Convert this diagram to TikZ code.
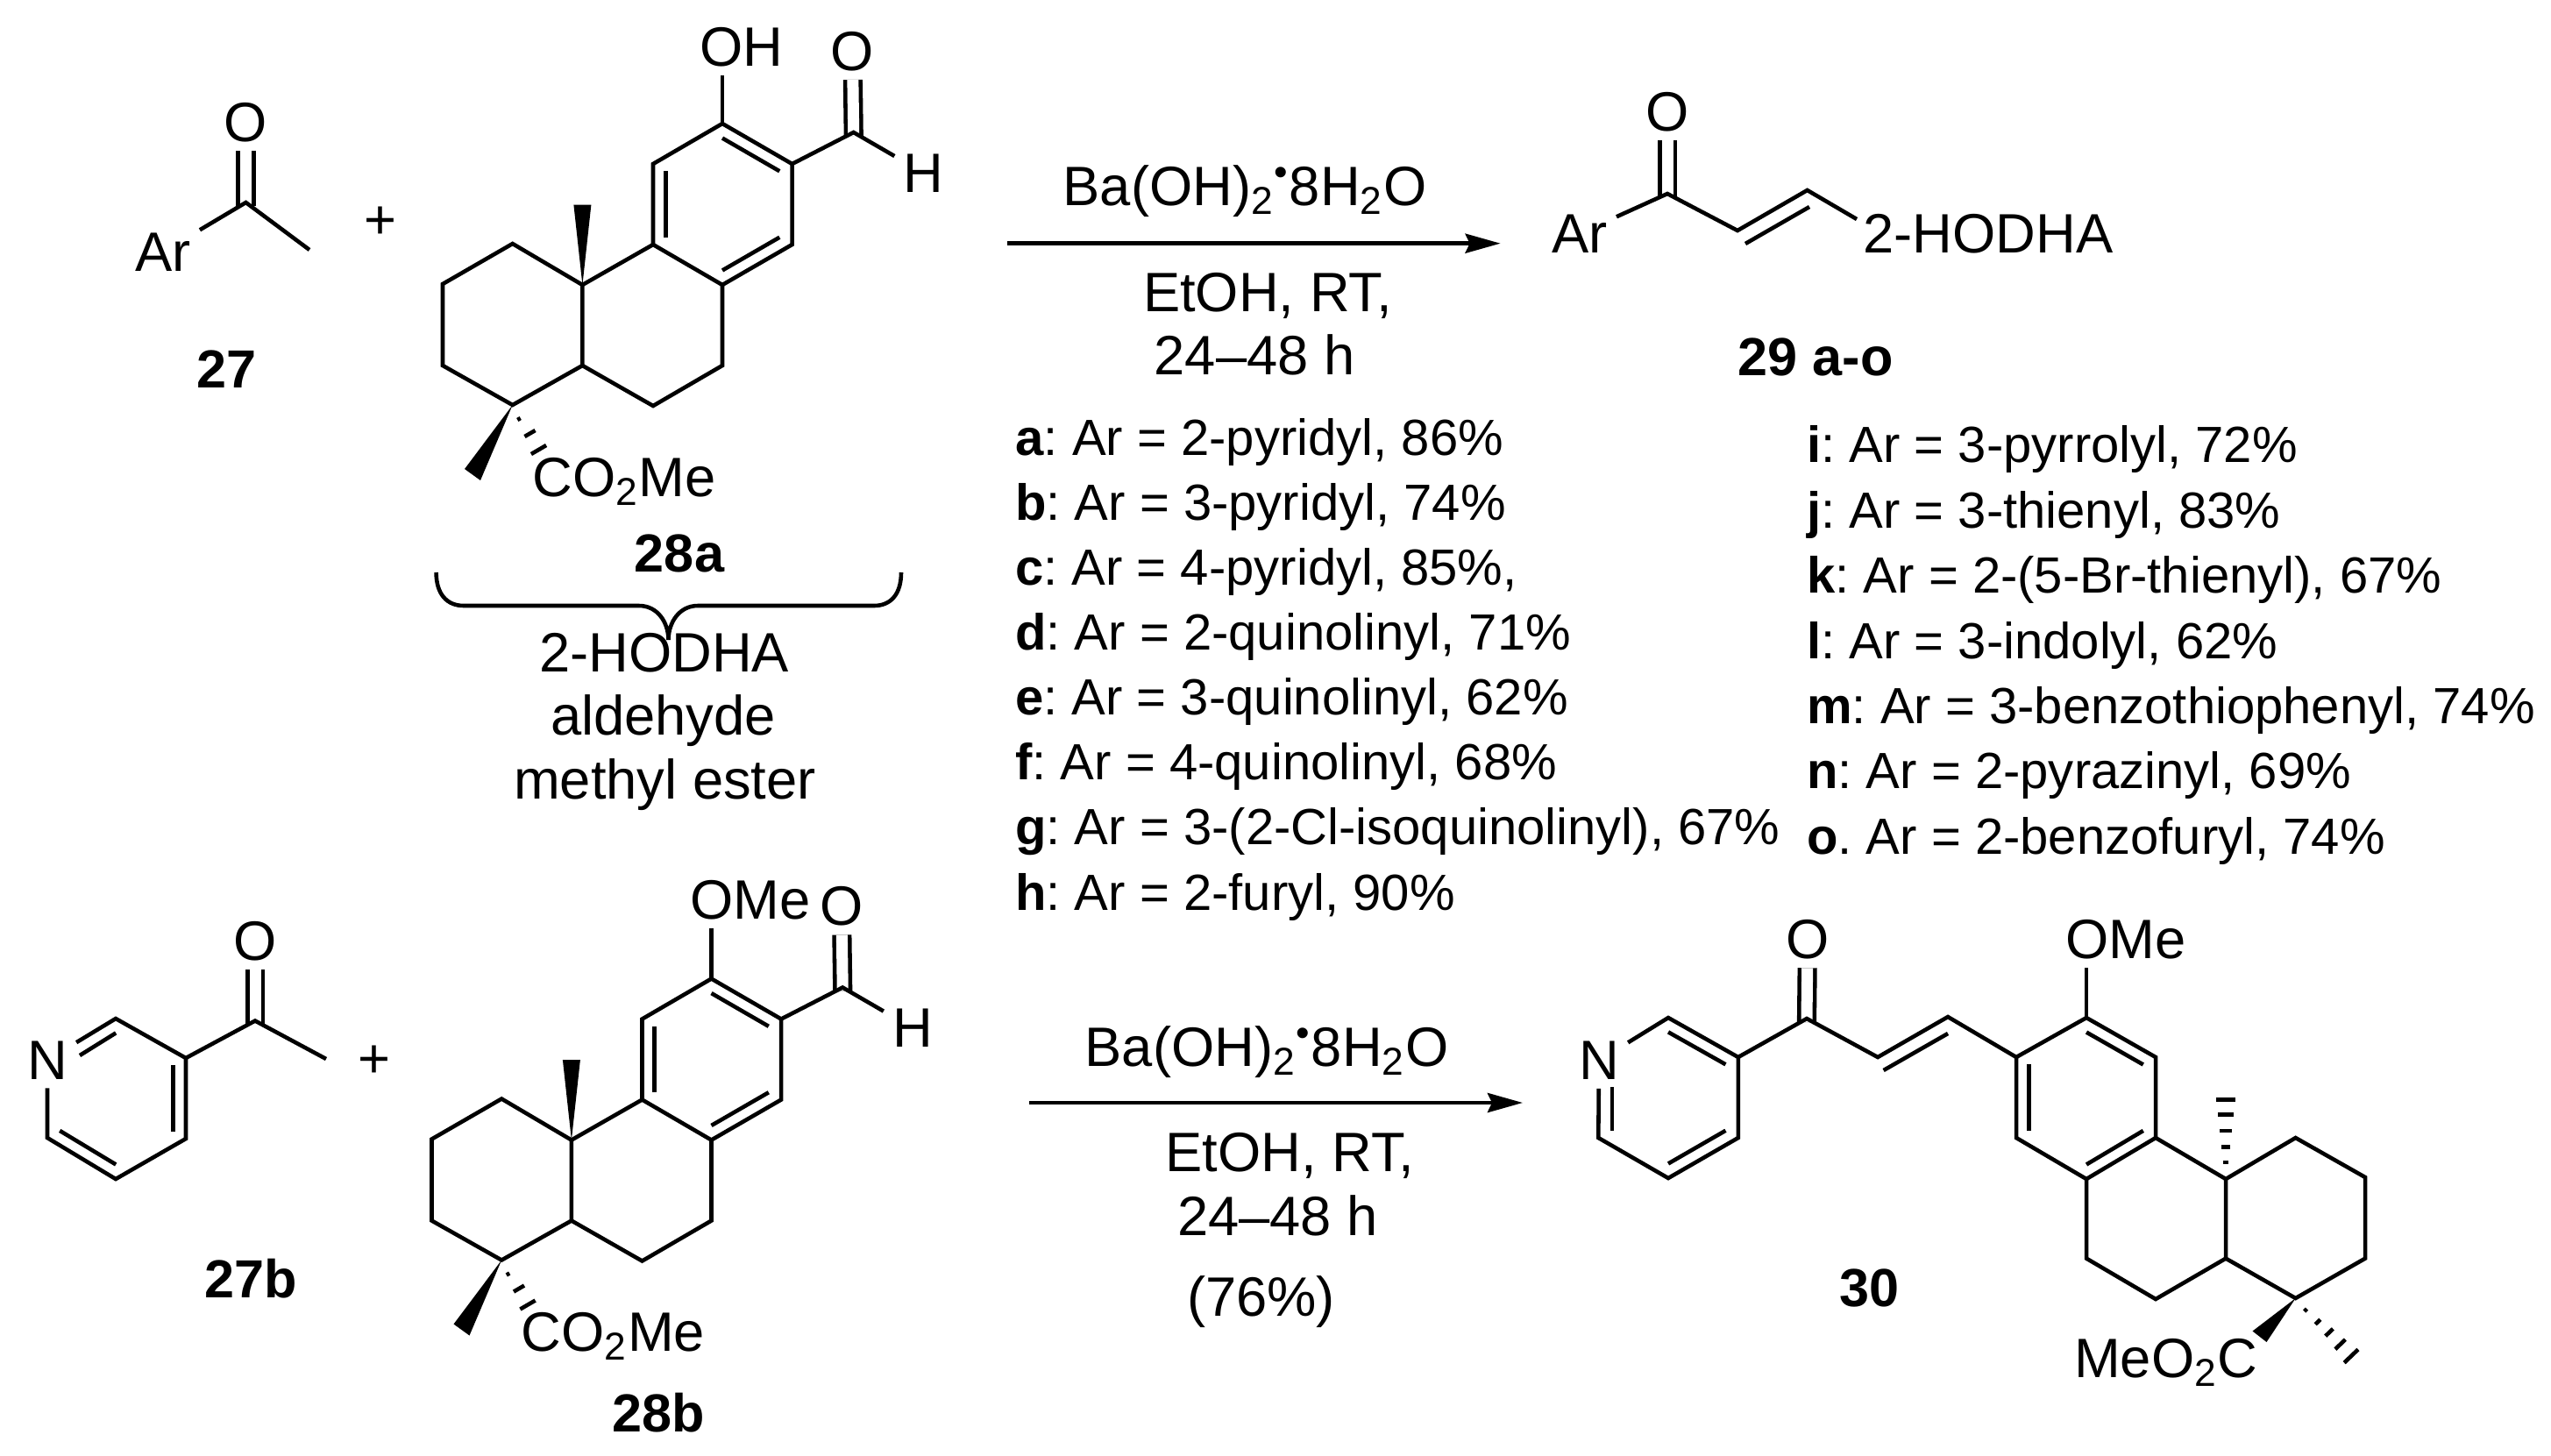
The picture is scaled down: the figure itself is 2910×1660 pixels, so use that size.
\documentclass[tikz,border=0pt]{standalone}
\usepackage{fontspec}
\setmainfont{Liberation Sans}
\usetikzlibrary{calc, arrows.meta}
\frenchspacing
\tikzset{
    atom/.style={anchor=base,inner sep=0.08cm,font=\fontsize{18}{21}\selectfont},
    cpd/.style={anchor=base,inner sep=0pt,font=\fontsize{17.4}{20}\selectfont\bfseries},
    entry/.style={anchor=base west,inner sep=0pt,font=\fontsize{16.5}{20}\selectfont},
    dbond/.style={double,double distance=0.13cm,shorten >=-0.04cm},
    rxn/.style={-{Stealth[length=0.4cm,width=0.22cm,inset=0.05cm]}},
}
\newcommand{\inbond}[3]{\draw ($(#1)!.18!(#3)$)--($(#2)!.18!(#3)$);}
\newcommand{\hodha}{%
    \coordinate (a1) at (824,141);
    \coordinate (a2) at (903.6,187);
    \coordinate (a3) at (903.6,279);
    \coordinate (a4) at (824,325);
    \coordinate (a5) at (745,279);
    \coordinate (a6) at (745,187);
    \coordinate (a7) at (664.4,325);
    \coordinate (a8) at (584.7,278);
    \coordinate (a9) at (505,324);
    \coordinate (a10) at (505,417);
    \coordinate (a11) at (584.7,462);
    \coordinate (a12) at (664.4,417);
    \coordinate (a13) at (745,463);
    \coordinate (a14) at (824,417);
    \coordinate (ca) at (824,233);
    \coordinate (cho) at (973.7,151);
    \coordinate (w1) at (654.4,233.6);
    \coordinate (w2) at (674.4,233.6);
    \coordinate (w3) at (530,535);
    \coordinate (w4) at (548,548);
    \node[atom] (oald) at (972.4,80) {O};
    \node[atom] (hald) at (1053.5,219) {H};
    \node[atom] (ester) at (712,566) {CO\textsubscript{2}Me};
    \draw[dbond] (oald)--(cho);
    \draw (a2)--(cho)--(hald);
    \draw (a1)--(a2)--(a3)--(a4)--(a5)--(a6)--cycle;
    \draw (a5)--(a7)--(a8)--(a9)--(a10)--(a11)--(a12)--(a7);
    \draw (a12)--(a13)--(a14)--(a4);
    \inbond{a1}{a2}{ca}
    \inbond{a3}{a4}{ca}
    \inbond{a5}{a6}{ca}
    \fill (a7)--(w1)--(w2)--cycle;
    \fill (a11)--(w3)--(w4)--cycle;
    \foreach \cx/\cy/\hw in {592/478/2,604.5/494.5/7,614.5/513/10}
        \draw ({\cx+.86*\hw},{\cy-.5*\hw})--({\cx-.86*\hw},{\cy+.5*\hw});
}

\begin{document}
\begin{tikzpicture}[x=0.01cm,y=-0.01cm,line width=1.3pt]
    \useasboundingbox (0,0) rectangle (2910,1660);
    % top reactants
    \node[atom] (ar1) at (186,309) {Ar};
    \node[atom] (o1) at (280.5,161) {O};
    \coordinate (c1) at (280.5,231);
    \coordinate (me1) at (353,285);
    \draw[dbond] (o1)--(c1);
    \draw (ar1)--(c1)--(me1);
    \node[cpd] (n27) at (259,442) {27};
    \node[atom] (plus1) at (433.5,272) {+};
    \begin{scope}[name prefix=ha-]
        \hodha
    \end{scope}
    \node[atom] (oh) at (846,75) {OH};
    \draw (ha-a1)--(oh.south -| ha-a1);
    \node[cpd] (n28a) at (775,652) {28a};
    % brace
    \coordinate (br1) at (497.6,653);
    \coordinate (br2) at (762.5,730);
    \coordinate (br3) at (1028,653);
    \draw (br1) .. controls (497.6,678) and (510,691) .. (529,691)--(729,691)
        .. controls (750,691) and (762.5,710) .. (br2)
        .. controls (762.5,710) and (775,691) .. (796,691)--(997,691)
        .. controls (1016,691) and (1028,678) .. (br3);
    \node[atom] (nm1) at (757.7,766) {2-HODHA};
    \node[atom] (nm2) at (756.5,838) {aldehyde};
    \node[atom] (nm3) at (758.5,911) {methyl ester};
    % top reaction
    \coordinate (ra1) at (1149,277.7);
    \coordinate (ra2) at (1711.6,277.7);
    \draw[rxn] (ra1)--(ra2);
    \node[atom] (ba1) at (1420,234) {Ba(OH)\textsubscript{2}\textsuperscript{•}8H\textsubscript{2}O};
    \node[atom] (et1) at (1446,355) {EtOH, RT,};
    \node[atom] (ti1) at (1431,427) {24–48 h};
    % top product
    \node[atom] (ar2) at (1802,288) {Ar};
    \node[atom] (o2) at (1902,149) {O};
    \coordinate (c2) at (1902,221);
    \coordinate (c3) at (1982,263);
    \coordinate (c4) at (2061.6,217);
    \coordinate (c5) at (2118,250);
    \coordinate (c6) at (1991,278);
    \coordinate (c7) at (2064,236);
    \draw[dbond] (o2)--(c2);
    \draw (ar2)--(c2)--(c3)--(c4)--(c5);
    \draw (c6)--(c7);
    \node[atom] (hodha) at (2268,288) {2-HODHA};
    \node[cpd] (n29) at (2071,428) {29 a-o};
    % lists
    \foreach \lab/\txt [count=\i from 0] in {a/{2-pyridyl, 86\%},b/{3-pyridyl, 74\%},c/{4-pyridyl, 85\%,},d/{2-quinolinyl, 71\%},e/{3-quinolinyl, 62\%},f/{4-quinolinyl, 68\%},g/{3-(2-Cl-isoquinolinyl), 67\%},h/{2-furyl, 90\%}}
        \node[entry] (e\lab) at (1156,519.3+74.1*\i) {\textbf{\lab}: Ar = \txt};
    \foreach \lab/\txt [count=\i from 0] in {i/{3-pyrrolyl, 72\%},j/{3-thienyl, 83\%},k/{2-(5-Br-thienyl), 67\%},l/{3-indolyl, 62\%},m/{3-benzothiophenyl, 74\%},n/{2-pyrazinyl, 69\%}}
        \node[entry] (e\lab) at (2059,527.9+74.4*\i) {\textbf{\lab}: Ar = \txt};
    \node[entry] (eo) at (2059,974.3) {\textbf{o}. Ar = 2-benzofuryl, 74\%};
    % bottom reactants
    \node[atom] (n1) at (54,1231) {N};
    \node[atom] (o3) at (291,1095) {O};
    \coordinate (p1) at (212,1207);
    \coordinate (p2) at (212,1299);
    \coordinate (p3) at (132,1345);
    \coordinate (p4) at (54,1298);
    \coordinate (p6) at (132,1162);
    \coordinate (p7) at (291,1164.5);
    \coordinate (p8) at (372,1208);
    \coordinate (cp) at (133,1253);
    \coordinate (p9) at (91,1204);
    \draw[dbond] (o3)--(p7);
    \draw (n1)--(p6)--(p1)--(p2)--(p3)--(p4)--(n1);
    \draw (p1)--(p7)--(p8);
    \draw ($(p6)!.18!(cp)$)--(p9);
    \inbond{p1}{p2}{cp}
    \inbond{p3}{p4}{cp}
    \node[cpd] (n27b) at (286.5,1480) {27b};
    \node[atom] (plus2) at (427,1229) {+};
    \begin{scope}[shift={(-12.5,975.5)},name prefix=mb-]
        \hodha
    \end{scope}
    \node[atom] (ome1) at (856,1048) {OMe};
    \draw (mb-a1)--(ome1.south -| mb-a1);
    \node[cpd] (n28b) at (751,1633) {28b};
    % bottom reaction
    \coordinate (rb1) at (1174,1258);
    \coordinate (rb2) at (1737,1258);
    \draw[rxn] (rb1)--(rb2);
    \node[atom] (ba2) at (1445,1216) {Ba(OH)\textsubscript{2}\textsuperscript{•}8H\textsubscript{2}O};
    \node[atom] (et2) at (1471.5,1336.7) {EtOH, RT,};
    \node[atom] (ti2) at (1457.5,1409) {24–48 h};
    \node[atom] (yi2) at (1438.6,1501.7) {(76\%)};
    % bottom product
    \node[atom] (n2) at (1824,1231.5) {N};
    \node[atom] (o4) at (2062,1093.4) {O};
    \coordinate (r1) at (1982.8,1206);
    \coordinate (r2) at (1982.8,1298);
    \coordinate (r3) at (1903,1344);
    \coordinate (r4) at (1823.3,1298);
    \coordinate (r6) at (1903,1161);
    \coordinate (cr) at (1903,1252);
    \coordinate (r7) at (1839,1240);
    \coordinate (r8) at (1839,1289.6);
    \coordinate (k1) at (2061,1162);
    \coordinate (k2) at (2142,1206);
    \coordinate (k3) at (2222,1160);
    \coordinate (k4) at (2148.6,1221);
    \coordinate (k5) at (2222,1179);
    \coordinate (b1) at (2300,1206);
    \coordinate (b2) at (2380,1161);
    \coordinate (b3) at (2459,1206);
    \coordinate (b4) at (2459,1298);
    \coordinate (b5) at (2380,1345);
    \coordinate (b6) at (2300,1298);
    \coordinate (cb) at (2380,1253);
    \coordinate (d1) at (2539,1345);
    \coordinate (d2) at (2618.6,1298);
    \coordinate (d3) at (2698,1343);
    \coordinate (d4) at (2698,1435.6);
    \coordinate (d5) at (2618.6,1481);
    \coordinate (d6) at (2539,1435.6);
    \coordinate (d7) at (2459,1482);
    \coordinate (d8) at (2380,1435.6);
    \coordinate (w5) at (2569.5,1518.5);
    \coordinate (w6) at (2585.5,1531);
    \draw[dbond] (o4)--(k1);
    \draw (n2)--(r6)--(r1)--(r2)--(r3)--(r4)--(n2);
    \draw (r7)--(r8);
    \inbond{r6}{r1}{cr}
    \inbond{r2}{r3}{cr}
    \draw (r1)--(k1)--(k2)--(k3)--(b1);
    \draw (k4)--(k5);
    \draw (b1)--(b2)--(b3)--(b4)--(b5)--(b6)--cycle;
    \draw (b4)--(d1)--(d2)--(d3)--(d4)--(d5)--(d6)--(d1);
    \draw (d6)--(d7)--(d8)--(b5);
    \inbond{b2}{b3}{cb}
    \inbond{b4}{b5}{cb}
    \inbond{b6}{b1}{cb}
    \node[atom] (ome2) at (2425,1093.4) {OMe};
    \draw (b2)--(ome2.south -| b2);
    \fill (d5)--(w5)--(w6)--cycle;
    \foreach \yy/\hw in {1326/3,1308.5/5,1290/7,1271.5/9,1254.6/11}
        \draw (2539-\hw,\yy)--(2539+\hw,\yy);
    \foreach \cx/\cy/\hw in {2630/1494.5/2,2644/1508/4,2657/1520/6,2669.6/1533.6/8,2682/1547/11}
        \draw ({\cx+.72*\hw},{\cy-.69*\hw})--({\cx-.72*\hw},{\cy+.69*\hw});
    \node[atom] (ester2) at (2470.7,1571.5) {MeO\textsubscript{2}C};
    \node[cpd] (n30) at (2132,1490) {30};
\end{tikzpicture}
\end{document}
